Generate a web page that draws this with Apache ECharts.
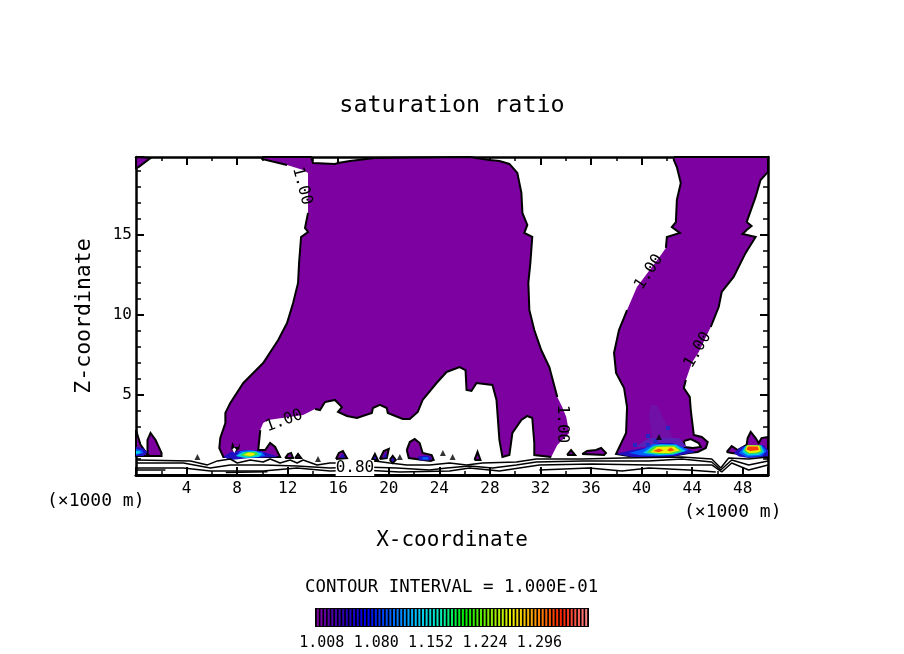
<!DOCTYPE html>
<html>
<head>
<meta charset="utf-8">
<style>
  html, body { margin: 0; padding: 0; background: #fff; }
  #chart { width: 904px; height: 654px; }
</style>
<script src="https://cdn.jsdelivr.net/npm/echarts@6/dist/echarts.min.js"></script>
</head>
<body>
<div id="chart"></div>
<script>
// all outlines are [x km, z km]
var mainLobe = [[9.98,19.88],[13.85,19.88],[14.01,19.5],[15.74,19.44],[15.98,19.5],[16.92,19.63],[18.89,19.81],[26.39,19.88],[27.96,19.69],[28.75,19.63],[29.54,19.44],[30.17,18.88],[30.49,17.63],[30.57,16.38],[30.96,15.63],[30.72,15.13],[31.35,14.88],[31.2,13.25],[31.04,12],[31.12,10.31],[31.51,9.06],[32.06,7.81],[32.7,6.75],[33.33,4.88],[33.72,4.25],[34.04,3.63],[34.27,2.63],[33.33,1.88],[32.85,1.13],[31.51,1.25],[31.51,2],[31.35,3.56],[30.96,3.69],[30.49,3.44],[29.78,2.63],[29.54,1.25],[28.99,1.13],[28.75,2.19],[28.52,4.69],[28.2,5.63],[26.94,5.75],[26.54,5.25],[26.15,5.31],[26.07,6.56],[25.6,6.75],[24.57,6.44],[23.78,5.75],[22.68,4.69],[22.29,3.94],[21.66,3.5],[21.1,3.5],[19.92,3.88],[19.84,4.19],[19.29,4.38],[18.74,4.19],[18.66,3.88],[17.48,3.56],[16.69,3.69],[15.98,3.94],[16.29,4.25],[15.74,4.69],[14.95,4.56],[14.56,4.06],[14.16,4.13],[13.22,3.75],[10.46,3.44],[10.06,3.25],[9.83,2.81],[9.67,1.56],[10.22,1.56],[10.61,2],[11.01,1.75],[11.4,1.13],[6.91,1.13],[6.59,1.69],[6.67,2.31],[7.07,3.25],[7.07,3.88],[7.46,4.5],[8.49,5.75],[10.06,7],[11.25,8.44],[11.95,9.5],[12.43,10.75],[12.82,12],[12.9,13.25],[13.06,14.88],[13.61,15.19],[13.37,15.44],[13.61,16.38],[13.61,18.88],[13.22,19.06],[11.95,19.38],[9.98,19.75]];
var rightLobe = [[42.55,19.88],[50,19.88],[50,18.94],[49.41,18.44],[49.02,17.38],[48.31,15.81],[48.7,15.56],[48.31,15.31],[47.99,15.06],[49.02,14.88],[48.23,13.88],[47.28,12.38],[46.34,11.44],[46.1,10.5],[45.47,9.25],[44.52,7.69],[43.97,7],[43.5,5.94],[43.34,5.44],[43.81,4.88],[43.89,4.06],[44.13,2.5],[44.76,2.38],[45.23,2.06],[45.08,1.69],[44.44,1.44],[43.74,1.38],[41.92,1.13],[39,1.19],[37.98,1.31],[38.77,2.63],[38.85,4.25],[38.61,5.44],[37.98,6.38],[37.82,7.63],[38.21,9.06],[38.85,10.31],[39.63,11.75],[41.53,13.75],[41.92,14.19],[42,14.88],[43.03,15.13],[42.39,15.5],[42.71,15.81],[42.79,17.19],[43.1,18.25],[42.79,19.25],[42.55,19.69]];
var rightHole = [[43.34,2.13],[43.89,2.25],[44.52,2],[44.68,1.75],[44.05,1.69],[43.42,1.75]];
var cornerPatch = [[0,19.88],[1.15,19.81],[0.2,19.25],[0,19.19]];
var leftLobe = [[0.91,1.31],[0.91,2.19],[1.15,2.63],[1.55,2.19],[2.02,1.38],[2.02,1.19],[1.07,1.19]];
var edgeLobe = [[0,2.81],[0.36,1.88],[0.99,1.19],[0,1.19]];
var midLobe = [[21.42,1.56],[21.66,2.06],[22.05,2.25],[22.44,2],[22.68,1.38],[23.39,1.25],[23.55,0.94],[23.3,0.88],[21.58,1.06]];
var endLobe = [[46.73,1.44],[47.13,1.81],[47.6,1.56],[48.31,1.88],[48.39,2.31],[48.63,2.69],[49.02,2.31],[49.26,2],[49.49,2.31],[50,2.38],[50,1.06],[49.26,1.19],[47.13,1.38]];
var specks = [
  [[11.8,1.06],[12.03,1.31],[12.27,1.38],[12.43,1.06]],
  [[12.59,1.06],[12.82,1.31],[13.06,1.06]],
  [[15.82,1],[16.05,1.38],[16.37,1.5],[16.69,1.06]],
  [[18.66,0.94],[18.9,1.31],[19.13,0.94]],
  [[19.29,1],[19.6,1.5],[20,1.63],[19.84,1.06]],
  [[20.08,0.94],[20.31,1.19],[20.55,0.94],[20.31,0.75]],
  [[26.78,0.94],[27.02,1.44],[27.25,0.94]],
  [[34.1,1.25],[34.42,1.56],[34.74,1.25]],
  [[35.3,1.31],[35.69,1.5],[36.4,1.56],[36.8,1.69],[37.18,1.38],[37.03,1.25]]
];
var speckCores = [
  [[16.1,1.1],[16.35,1.35],[16.55,1.08]],
  [[18.8,1],[18.9,1.18],[19.02,1]],
  [[19.55,1.1],[19.75,1.4],[19.85,1.1]],
  [[20.2,0.94],[20.31,1.08],[20.42,0.94],[20.31,0.82]]
];

// darker purple inside the right lobe
var rightShadeUpper = [[40.58,3.75],[40.74,4.38],[41.21,4.38],[41.69,3.63],[42,3.13],[42.55,2.19],[40.97,1.88],[40.74,2.81]];
var rightShadeLower = [[39.48,1.75],[40.58,2.31],[42.95,2.31],[43.58,1.75]];

// peaks at the base, outer level first
var leftPeak = [
  [[6.91,1.13],[7.46,1.44],[8.8,1.56],[9.83,1.5],[10.85,1.25],[11.25,1.13],[9.04,1.06],[7.46,0.94]],
  [[7.93,1.19],[8.25,1.5],[9.04,1.56],[9.98,1.44],[10.22,1.19],[9.04,1.06]],
  [[7.9,1.19],[8.45,1.44],[9.4,1.5],[10,1.31],[9.7,1.13],[8.64,1.06]],
  [[8.25,1.22],[8.7,1.44],[9.5,1.44],[9.7,1.28],[9.04,1.13]],
  [[8.5,1.25],[8.9,1.4],[9.3,1.38],[9.4,1.25],[9.04,1.19]]
];
var rightPeak = [
  [[37.98,1.31],[39.24,1.56],[40.58,1.75],[41.37,2],[42.39,2],[43.18,1.75],[44.28,1.44],[41.92,1.06],[39.24,1.13]],
  [[39,1.38],[40.19,1.63],[40.89,1.94],[42.71,1.94],[43.74,1.56],[42.5,1.25],[41.37,1.19],[40,1.22]],
  [[40.1,1.38],[40.9,1.81],[41.5,1.9],[42.71,1.88],[43.5,1.5],[42.5,1.28],[41.37,1.25]],
  [[40.4,1.4],[41,1.8],[41.6,1.84],[42.6,1.84],[43.2,1.5],[42.4,1.31],[41.37,1.31]],
  [[40.7,1.42],[41.2,1.75],[42.55,1.78],[43,1.53],[42.2,1.38],[41.3,1.38]]
];
var rightPeakTopA = [[40.9,1.5],[41.37,1.66],[41.75,1.55],[41.37,1.42]];
var rightPeakTopB = [[42,1.55],[42.31,1.72],[42.62,1.55],[42.24,1.47]];
var endPeak = [
  [[47.28,1.38],[47.84,1.75],[48.63,1.88],[49.64,1.88],[50,1.56],[50,1.13],[48.47,1.06],[47.7,1.15]],
  [[47.68,1.38],[48.1,1.75],[48.4,1.86],[49.5,1.86],[49.9,1.5],[49.5,1.19],[48.31,1.13]],
  [[47.95,1.44],[48.2,1.8],[48.4,1.86],[49.45,1.84],[49.7,1.44],[49.3,1.25],[48.4,1.22]],
  [[48.1,1.5],[48.3,1.84],[49.4,1.84],[49.55,1.47],[49.2,1.34],[48.5,1.31]],
  [[48.2,1.56],[48.35,1.86],[49.3,1.84],[49.42,1.5],[49.1,1.4],[48.5,1.38]]
];
var endPeakTop = [[48.3,1.6],[48.42,1.78],[49.2,1.78],[49.28,1.56],[48.6,1.5]];
var edgePeak = [
  [[0,1.75],[0.52,1.69],[0.91,1.44],[0.6,1.19],[0,1.19]],
  [[0,1.63],[0.44,1.56],[0.6,1.38],[0,1.25]],
  [[0,1.5],[0.28,1.5],[0.36,1.38],[0,1.31]]
];
var midPeak = [
  [[22.29,1.16],[23.07,1.22],[23.39,1.06],[23.23,0.91],[22.44,0.91]],
  [[22.6,1.09],[23.07,1.13],[23.15,0.97],[22.68,0.97]]
];
var earsBlack = [[7.54,1.75],[7.62,2.06],[7.81,1.75],[8.09,1.75],[8.25,2],[8.17,1.63],[7.85,1.44],[7.54,1.56]];
var earsWhite = [[7.62,1.59],[7.78,1.72],[7.93,1.59],[7.78,1.38]];

var blueDots = [[42.08,2.94],[40.5,2.44],[40.5,1.88],[39.48,1.88],[41.1,2.1]];
var blackMarks = [[41.37,2.38],[4.86,1.13],[14.4,1],[24.28,1.38],[20.87,1.13],[25.05,1.13]];

// near-ground contours
var baseLine1 = [[0,0.94],[4.31,0.88],[5.65,0.63],[6.44,0.88],[7.46,1],[8.01,0.75],[9.04,0.94],[10.06,0.81],[10.61,1],[11.4,0.75],[12.19,0.94],[12.75,0.75],[13.22,0.94],[14.32,0.63],[15.34,0.75],[17.95,0.75],[18.89,0.88],[20.08,0.75],[21.42,0.63],[23.23,0.63],[24.81,0.75],[26.15,0.63],[27.41,0.75],[30.09,0.81],[31.67,1],[35.3,1],[38.45,1.06],[43.18,1.13],[45.55,1],[46.26,0.44],[46.89,1.06],[48.47,1],[50,1.13]];
var baseLine2 = [[0,0.75],[3.75,0.75],[5.88,0.44],[7.46,0.63],[10.06,0.63],[12.75,0.56],[15.34,0.44],[17.95,0.5],[20.63,0.44],[23.23,0.31],[24.57,0.44],[26.39,0.56],[28.2,0.44],[30.09,0.63],[31.67,0.81],[35.3,0.88],[40.58,0.88],[43.18,1],[45.55,0.81],[46.26,0.31],[47.13,0.94],[48.47,0.63],[50,0.88]];
var baseLine3 = [[0,0.44],[3.75,0.44],[5.88,0.25],[10.06,0.25],[12.75,0.44],[15.34,0.25],[17.95,0.31],[20.87,0.19],[24.81,0.25],[26.39,0.44],[28.75,0.25],[31.91,0.63],[36.09,0.69],[40.58,0.63],[43.97,0.63],[45.55,0.63],[46.34,0.19],[47.13,0.75],[48.47,0.31],[50,0.63]];
var baseLine4 = [[31.91,0.31],[35.85,0.44],[38.45,0.25],[40.58,0.44],[43.74,0.31],[45.87,0.19]];
var baseLine5 = [[0,0.31],[2.33,0.31]];
var baseLine6 = [[7.1,0.15],[10.4,0.2]];

var contourLabels = [
  [13.14, 18.06, '1.00', -75],
  [11.72, 3.38, '1.00', 20],
  [40.58, 12.69, '1.00', 57],
  [44.44, 7.81, '1.00', 60],
  [33.72, 3.19, '1.00', -90],
  [17.32, 0.44, '0.80', 0]
];

var barLevels = [1.008,1.0128,1.0176,1.0224,1.0272,1.032,1.0368,1.0416,1.0464,1.0512,1.056,1.0608,1.0656,1.0704,1.0752,
  1.08,1.0848,1.0896,1.0944,1.0992,1.104,1.1088,1.1136,1.1184,1.1232,1.128,1.1328,1.1376,1.1424,1.1472,
  1.152,1.1568,1.1616,1.1664,1.1712,1.176,1.1808,1.1856,1.1904,1.1952,1.2,1.2048,1.2096,1.2144,1.2192,
  1.224,1.2288,1.2336,1.2384,1.2432,1.248,1.2528,1.2576,1.2624,1.2672,1.272,1.2768,1.2816,1.2864,1.2912,
  1.296,1.3008,1.3056,1.3104,1.3152,1.32,1.3248,1.3296,1.3344,1.3392,1.344,1.3488,1.3536,1.3584,1.3632];

var PURPLE = '#7d00a0';
var FONT = '"DejaVu Sans Mono", monospace';
var peakColors = ['#2010c0', '#0060ff', '#00d0e0', '#40e040', '#f0f000'];
var rampColors = ['#7d00a0', '#3000b0', '#0000f0', '#0060ff', '#00c0ff', '#00f0c0', '#00f000', '#80f000', '#f0f000', '#ff9000', '#ff2000', '#ff8080'];

// fill list, painted in order
var regions = [
  { pts: mainLobe, fill: PURPLE, line: true },
  { pts: rightLobe, fill: PURPLE, line: true },
  { pts: cornerPatch, fill: PURPLE, line: true },
  { pts: leftLobe, fill: PURPLE, line: true },
  { pts: edgeLobe, fill: PURPLE, line: true },
  { pts: midLobe, fill: PURPLE, line: true },
  { pts: endLobe, fill: PURPLE, line: true },
  { pts: rightHole, fill: '#fff', line: true },
  { pts: rightShadeUpper, fill: '#7010a6' },
  { pts: rightShadeLower, fill: '#5a20b8' }
];
specks.forEach(function (s) { regions.push({ pts: s, fill: PURPLE, line: true }); });
speckCores.forEach(function (s) { regions.push({ pts: s, fill: peakColors[0] }); });
[leftPeak, rightPeak, endPeak].forEach(function (peak) {
  peak.forEach(function (p, i) { regions.push({ pts: p, fill: peakColors[i] }); });
});
regions.push({ pts: rightPeakTopA, fill: '#ff5000' });
regions.push({ pts: rightPeakTopB, fill: '#ff5000' });
regions.push({ pts: endPeakTop, fill: '#ff4000' });
edgePeak.forEach(function (p, i) { regions.push({ pts: p, fill: peakColors[i] }); });
midPeak.forEach(function (p, i) { regions.push({ pts: p, fill: peakColors[i] }); });
regions.push({ pts: earsBlack, fill: '#000' });
regions.push({ pts: earsWhite, fill: '#fff' });

var chart = echarts.init(document.getElementById('chart'));

function renderRegion(params, api) {
  var r = regions[params.dataIndex];
  var pix = r.pts.map(function (p) { return api.coord(p); });
  var children = [{ type: 'polygon', shape: { points: pix }, style: { fill: r.fill, stroke: null } }];
  if (r.line) {
    // contour stops where a 1.00 label sits on it
    var gaps = contourLabels.filter(function (l) { return l[3] !== 0; }).map(function (l) { return api.coord([l[0], l[1]]); });
    var run = [];
    for (var i = 0; i <= pix.length; i++) {
      var p = pix[i % pix.length];
      var hit = gaps.some(function (g) { return Math.hypot(p[0] - g[0], p[1] - g[1]) < 22; });
      if (hit) {
        if (run.length > 1) children.push(strokeOf(run));
        run = [];
      } else {
        run.push(p);
      }
    }
    if (run.length > 1) children.push(strokeOf(run));
  }
  return { type: 'group', children: children };
}

function strokeOf(run) {
  return { type: 'polyline', shape: { points: run }, style: { fill: null, stroke: '#000', lineWidth: 2 } };
}

function renderLabel(params, api) {
  var l = contourLabels[params.dataIndex];
  var c = api.coord([l[0], l[1]]);
  return {
    type: 'text',
    x: c[0], y: c[1],
    rotation: l[3] * Math.PI / 180,
    style: {
      text: l[2], font: '16px ' + FONT, fill: '#000', align: 'center', verticalAlign: 'middle',
      backgroundColor: l[3] === 0 ? '#fff' : null
    }
  };
}

function baseSeries(pts) {
  return { type: 'line', data: pts, showSymbol: false, silent: true, z: 3, lineStyle: { color: '#000', width: 1.5 } };
}

function xAxisAt(pos, show, lineWidth) {
  return {
    type: 'value', gridIndex: 0, position: pos, min: 0, max: 50, interval: 4,
    axisLine: { onZero: false, lineStyle: { color: '#000', width: lineWidth } },
    axisTick: { inside: true, length: 8, lineStyle: { color: '#000', width: 2 } },
    minorTick: { show: true, splitNumber: 2, length: 4, lineStyle: { color: '#000', width: 1.5 } },
    splitLine: { show: false },
    axisLabel: { show: show, showMinLabel: false, showMaxLabel: false, margin: 6, color: '#000', fontSize: 16, fontFamily: FONT }
  };
}

function yAxisAt(pos, show) {
  return {
    type: 'value', gridIndex: 0, position: pos, min: 0, max: 19.875, interval: 5,
    axisLine: { onZero: false, lineStyle: { color: '#000', width: 2.5 } },
    axisTick: { inside: true, length: 8, lineStyle: { color: '#000', width: 2 } },
    minorTick: { show: true, splitNumber: 5, length: 5, lineStyle: { color: '#000', width: 1.5 } },
    splitLine: { show: false },
    axisLabel: { show: show, showMinLabel: false, showMaxLabel: false, margin: 4, color: '#000', fontSize: 16, fontFamily: FONT }
  };
}

var xBottom = xAxisAt('bottom', true, 3);
xBottom.name = 'X-coordinate';
xBottom.nameLocation = 'middle';
xBottom.nameGap = 55;
xBottom.nameTextStyle = { color: '#000', fontSize: 21, fontFamily: FONT };
var yLeft = yAxisAt('left', true);
yLeft.name = 'Z-coordinate';
yLeft.nameLocation = 'middle';
yLeft.nameGap = 41;
yLeft.nameTextStyle = { color: '#000', fontSize: 21.5, fontFamily: FONT };

var option = {
  animation: false,
  backgroundColor: '#fff',
  title: {
    text: 'saturation ratio', left: 447, top: 89, textAlign: 'center',
    textStyle: { color: '#000', fontSize: 23.4, fontWeight: 'normal', fontFamily: FONT }
  },
  grid: [
    { left: 136, top: 157, width: 632, height: 318, containLabel: false },
    { left: 316, top: 609, width: 272, height: 17, show: true, backgroundColor: '#000', borderColor: '#000', borderWidth: 2 }
  ],
  xAxis: [
    xBottom,
    xAxisAt('top', false, 2.5),
    {
      type: 'category', gridIndex: 1, data: barLevels.map(String),
      axisLine: { show: false }, axisTick: { show: false },
      axisLabel: {
        interval: 14, margin: 10, padding: [0, 0, 0, 8], color: '#000', fontSize: 15, fontFamily: FONT,
        formatter: function (v) { return (+v).toFixed(3); }
      }
    }
  ],
  yAxis: [
    yLeft,
    yAxisAt('right', false),
    { type: 'value', gridIndex: 1, min: 0, max: 1, show: false }
  ],
  visualMap: {
    show: false, seriesIndex: 0, dimension: 2, min: barLevels[0], max: barLevels[barLevels.length - 1],
    inRange: { color: rampColors }
  },
  series: [
    {
      type: 'bar', xAxisIndex: 2, yAxisIndex: 2, barWidth: 2, silent: true,
      data: barLevels.map(function (v) { return [String(v), 1, v]; })
    },
    {
      type: 'custom', coordinateSystem: 'cartesian2d', xAxisIndex: 0, yAxisIndex: 0, z: 2, silent: true,
      renderItem: renderRegion, data: regions.map(function (r, i) { return [i]; }), encode: { x: -1, y: -1 }
    },
    {
      type: 'scatter', xAxisIndex: 0, yAxisIndex: 0, z: 4, silent: true, symbol: 'rect', symbolSize: 4,
      data: blueDots, itemStyle: { color: '#1030d0' }
    },
    {
      type: 'scatter', xAxisIndex: 0, yAxisIndex: 0, z: 4, silent: true, symbol: 'triangle', symbolSize: 6,
      data: blackMarks, itemStyle: { color: '#000' }
    },
    baseSeries(baseLine1), baseSeries(baseLine2), baseSeries(baseLine3),
    baseSeries(baseLine4), baseSeries(baseLine5), baseSeries(baseLine6),
    {
      type: 'custom', coordinateSystem: 'cartesian2d', xAxisIndex: 0, yAxisIndex: 0, z: 5, silent: true,
      renderItem: renderLabel, data: contourLabels.map(function (l, i) { return [i]; }), encode: { x: -1, y: -1 }
    }
  ],
  graphic: [
    { type: 'text', left: 47, top: 492, style: { text: '(\u00d71000 m)', font: '18px ' + FONT, fill: '#000' } },
    { type: 'text', left: 684, top: 503, style: { text: '(\u00d71000 m)', font: '18px ' + FONT, fill: '#000' } },
    { type: 'text', left: 305, top: 579, style: { text: 'CONTOUR INTERVAL = 1.000E-01', font: '17.4px ' + FONT, fill: '#000' } }
  ]
};

chart.setOption(option);
</script>
</body>
</html>
